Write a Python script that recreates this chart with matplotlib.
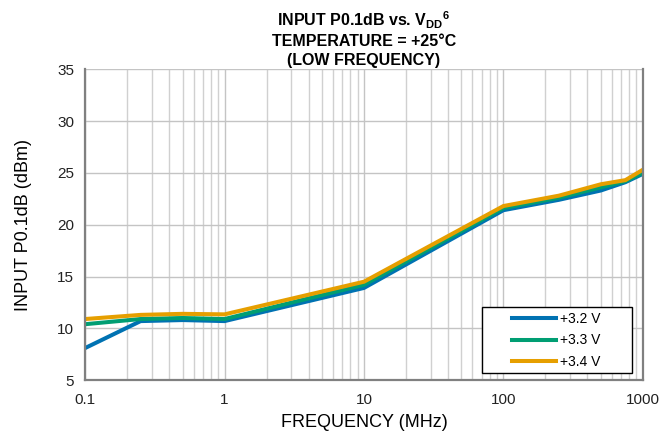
import matplotlib
matplotlib.use("Agg")
import matplotlib.pyplot as plt
from matplotlib.patches import Rectangle

plt.rcParams['font.family'] = ['Liberation Sans', 'DejaVu Sans']
plt.rcParams['mathtext.default'] = 'regular'

# data
freq = [0.1, 0.25, 0.5, 1, 10, 100, 250, 500, 750, 1000]
p_32 = [8.1, 10.7, 10.8, 10.7, 13.9, 21.4, 22.4, 23.3, 24.1, 24.9]
p_33 = [10.4, 10.9, 11.0, 10.9, 14.2, 21.6, 22.6, 23.6, 24.2, 25.0]
p_34 = [10.9, 11.3, 11.4, 11.35, 14.5, 21.8, 22.8, 23.9, 24.3, 25.3]
labels = ['+3.2 V', '+3.3 V', '+3.4 V']
colors = ['#0072B2', '#009E73', '#E69F00']

fig = plt.figure(figsize=(6.6, 4.38), dpi=100)
ax = fig.add_axes([0.129, 0.132, 0.845, 0.71])

for y, lab, c in zip([p_32, p_33, p_34], labels, colors):
    ax.plot(freq, y, color=c, lw=2.9, label=lab, solid_joinstyle='miter')

ax.set_xscale('log')
ax.set_xlim(0.1, 1000)
ax.set_ylim(5, 35)
ax.set_yticks(range(5, 36, 5))
ax.set_xticks([0.1, 1, 10, 100, 1000])
ax.set_xticklabels(['0.1', '1', '10', '100', '1000'])
ax.grid(True, which='major', color='#c4c4c4', lw=1.0)
ax.grid(True, which='minor', axis='x', color='#d0d0d0', lw=1.0)
ax.tick_params(which='both', length=0, labelsize=11, colors='#222222')
ax.tick_params(axis='x', pad=9)
ax.tick_params(axis='y', pad=8)

ax.spines['top'].set_visible(False)
for s in ['left', 'bottom', 'right']:
    ax.spines[s].set_color('#808080')
    ax.spines[s].set_linewidth(1.6)

ax.set_xlabel('FREQUENCY (MHz)', fontsize=13, labelpad=5)
ax.set_ylabel('INPUT P0.1dB (dBm)', fontsize=13, labelpad=18)
ax.set_title('INPUT P0.1dB vs. V$_{DD}$$^{6}$\nTEMPERATURE = +25°C\n(LOW FREQUENCY)',
             fontsize=11.5, fontweight='bold', linespacing=1.3, pad=3)

# legend frame drawn separately so the entries sit right of centre like the original
box = Rectangle((0.711, 0.0225), 0.269, 0.2125, transform=ax.transAxes,
                facecolor='white', edgecolor='black', lw=1.0, zorder=4)
ax.add_patch(box)
leg = ax.legend(loc='center left', bbox_to_anchor=(0.765, 0.128), fontsize=10,
                frameon=False, handlelength=3.2, borderpad=0,
                labelspacing=0.55, handletextpad=0.3, borderaxespad=0)
leg.set_zorder(5)

fig.savefig('out.png', dpi=100)
